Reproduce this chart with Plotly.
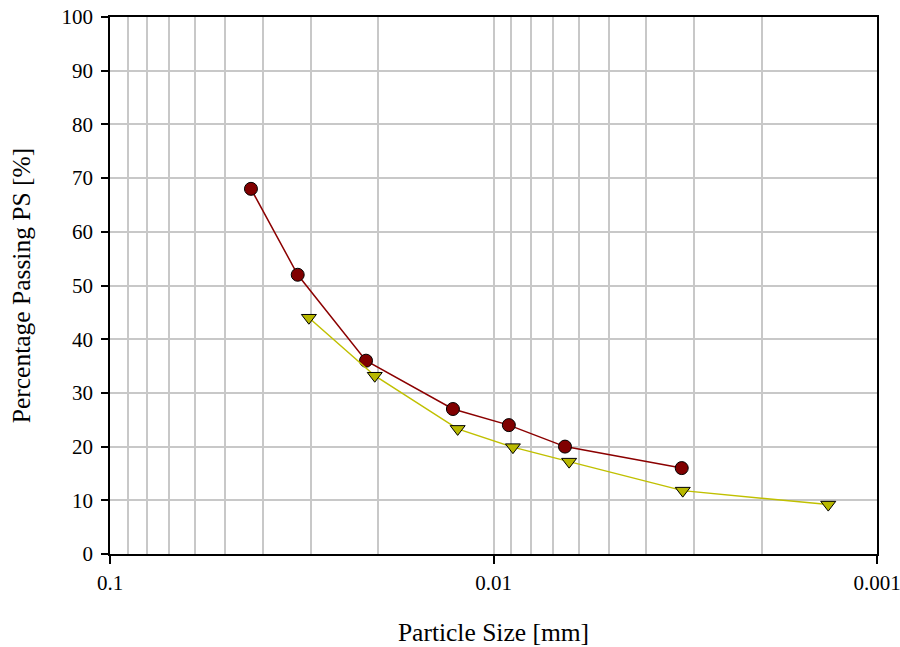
import plotly.graph_objects as go

# Data
size_ps1 = [0.0429, 0.0324, 0.0215, 0.01276, 0.00912, 0.00651, 0.00323]
pass_ps1 = [68, 52, 36, 27, 24, 20, 16]

size_ps2 = [0.0303, 0.0204, 0.0124, 0.0089, 0.00635, 0.00321, 0.00134]
pass_ps2 = [44, 33.2, 23.3, 19.9, 17.2, 11.8, 9.2]

x_major = [0.1, 0.01, 0.001]
x_major_text = ["0.1", "0.01", "0.001"]
x_minor = [m * 10 ** e for e in (-2, -3) for m in range(2, 10)]
y_ticks = list(range(0, 101, 10))

FONT = "Liberation Serif, Times New Roman, serif"

fig = go.Figure()
fig.add_trace(go.Scatter(
    x=size_ps1, y=pass_ps1, mode="lines+markers",
    line=dict(color="#8B0000", width=1.5),
    marker=dict(symbol="circle", size=13, color="#800000",
                line=dict(color="black", width=1)),
    showlegend=False,
))
fig.add_trace(go.Scatter(
    x=size_ps2, y=pass_ps2, mode="lines+markers",
    line=dict(color="#C0C000", width=1.5),
    marker=dict(symbol="triangle-down", size=13, color="#B8B800",
                line=dict(color="black", width=1)),
    showlegend=False,
))

fig.update_layout(
    width=900, height=647,
    margin=dict(l=110, r=23, t=17, b=93),
    paper_bgcolor="white", plot_bgcolor="white",
    font=dict(family=FONT, size=21, color="black"),
    xaxis=dict(
        type="log", range=[-0.99999, -3.00001],
        tickmode="array", tickvals=x_major, ticktext=x_major_text,
        ticks="outside", ticklen=8, tickwidth=1.5, tickcolor="black",
        showgrid=True, gridcolor="#C8C8C8", gridwidth=1.5,
        minor=dict(tickmode="array", tickvals=x_minor, ticks="",
                   showgrid=True, gridcolor="#C8C8C8", gridwidth=1.5),
        showline=True, linecolor="black", linewidth=1.5, mirror=True,
        zeroline=False, automargin=False,
        ticklabeloverflow="allow",
        ticklabelstandoff=1,
        title=dict(text="Particle Size [mm]", font=dict(size=25.5, family=FONT),
                   standoff=44),
    ),
    yaxis=dict(
        range=[0, 100],
        tickmode="array", tickvals=y_ticks,
        ticks="outside", ticklen=7, tickwidth=1.5, tickcolor="black",
        showgrid=True, gridcolor="#C8C8C8", gridwidth=1.5,
        showline=True, linecolor="black", linewidth=1.5, mirror=True,
        zeroline=False, automargin=False,
        ticklabeloverflow="allow",
        ticklabelstandoff=4,
        title=dict(text="Percentage Passing PS [%]", font=dict(size=25.5, family=FONT),
                   standoff=24),
    ),
)

fig.write_html("out.html")
